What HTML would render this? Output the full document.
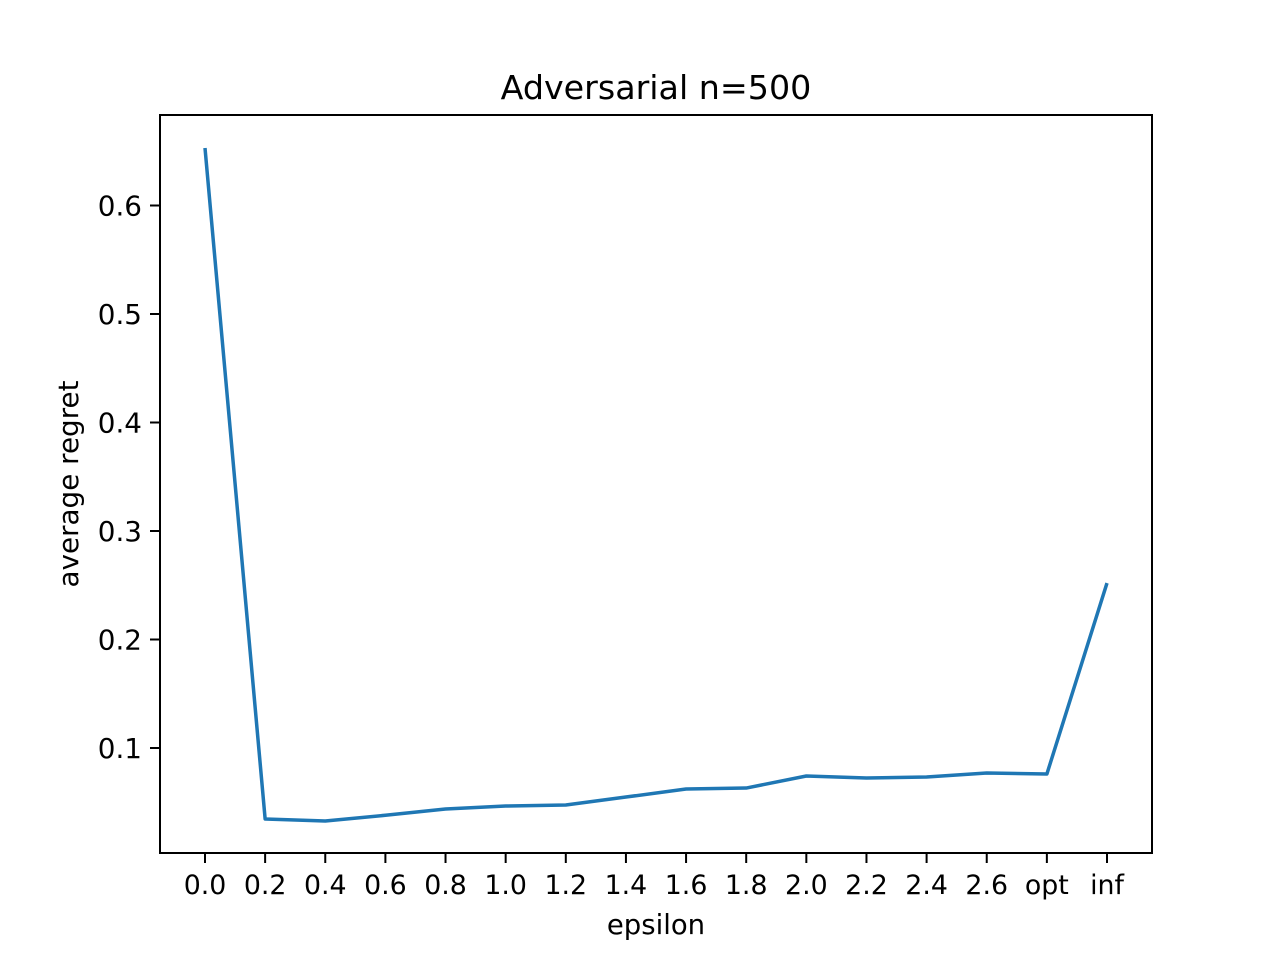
<!DOCTYPE html>
<html><head><meta charset="utf-8"><style>
body{margin:0;background:#fff;}
svg text{font-family:"DejaVu Sans","Liberation Sans",sans-serif;fill:#000;}
</style></head><body>
<svg id="chart" width="1280" height="960" xmlns="http://www.w3.org/2000/svg">
<rect width="1280" height="960" fill="#fff"/>
<text x="656" y="99" font-size="33.3" text-anchor="middle">Adversarial n=500</text>
<g id="plot"></g>
<rect x="160" y="115" width="992" height="738" fill="none" stroke="#000" stroke-width="2"/>
<text x="656" y="934" font-size="27.5" text-anchor="middle">epsilon</text>
<text transform="translate(78,484) rotate(-90)" font-size="27.8" text-anchor="middle">average regret</text>
</svg>
<script>
const categories=["0.0","0.2","0.4","0.6","0.8","1.0","1.2","1.4","1.6","1.8","2.0","2.2","2.4","2.6","opt","inf"];
const regret=[0.653,0.0346,0.0327,0.038,0.0438,0.0465,0.0475,0.0548,0.0622,0.0631,0.0742,0.0723,0.0733,0.077,0.076,0.252];
const yTicks=[0.1,0.2,0.3,0.4,0.5,0.6];
const yTickLabels=["0.1","0.2","0.3","0.4","0.5","0.6"];
const NS="http://www.w3.org/2000/svg";
const g=document.getElementById('plot');
function xs(i){return 205+i*(1107-205)/(categories.length-1);}
function ys(v){return 748-(v-0.1)*1085;}
function mk(t,a){const e=document.createElementNS(NS,t);for(const k in a)e.setAttribute(k,a[k]);g.appendChild(e);return e;}
categories.forEach((c,i)=>{
  const t=mk('line',{x1:xs(i),x2:xs(i),y1:853,y2:863,stroke:'#000','stroke-width':2});
  
  
  const l=mk('text',{x:xs(i),y:894,'font-size':26.8,'text-anchor':'middle'});
  l.textContent=c;
  
  
});
yTicks.forEach((v,i)=>{
  const t=mk('line',{x1:150,x2:160,y1:ys(v),y2:ys(v),stroke:'#000','stroke-width':2});
  
  
  const l=mk('text',{x:142,y:ys(v)+10,'font-size':27.8,'text-anchor':'end'});
  l.textContent=yTickLabels[i];
  
  
});
const p=mk('polyline',{points:regret.map((v,i)=>xs(i)+','+ys(v)).join(' '),fill:'none',stroke:'#1f77b4','stroke-width':3.5,'stroke-linejoin':'round'});


</script>
</body></html>
